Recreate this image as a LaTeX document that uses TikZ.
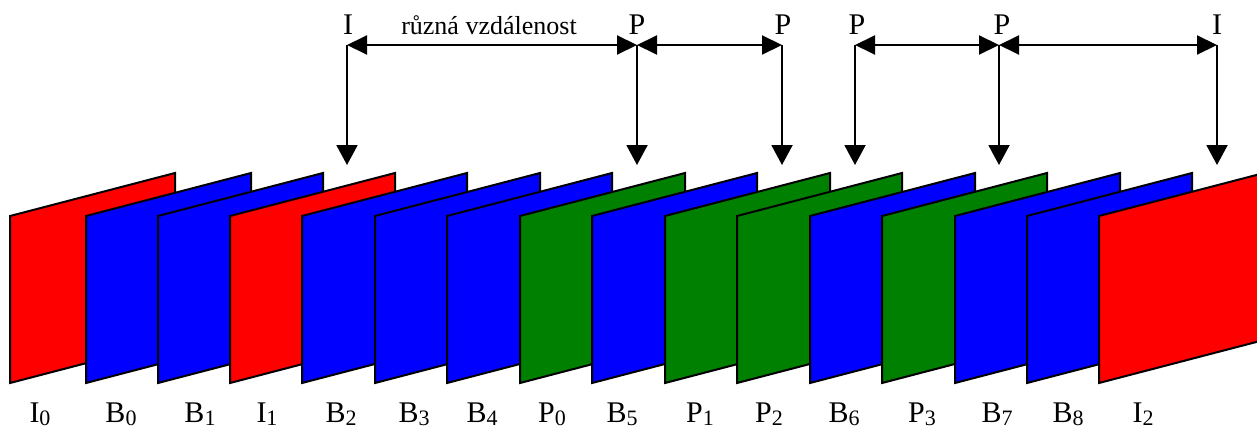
\documentclass[tikz,border=0pt]{standalone}
\usepackage{fontspec}
\setmainfont{Liberation Serif}
\usetikzlibrary{arrows.meta}
\definecolor{iframe}{RGB}{255,0,0}
\definecolor{bframe}{RGB}{0,0,255}
\definecolor{pframe}{RGB}{0,128,0}
\tikzset{
  framebox/.style={draw=black, line width=2pt, line join=miter},
  lbl/.style={font=\fontsize{30}{36}\selectfont, inner sep=0pt, anchor=base},
  toplbl/.style={font=\fontsize{30}{36}\selectfont, inner sep=0pt, anchor=base},
  distlbl/.style={font=\fontsize{26}{30}\selectfont, inner sep=0pt, anchor=base},
  downarr/.style={line width=2pt, -{Triangle[length=20pt,width=21pt]}},
  dblarr/.style={line width=2pt, {Triangle[length=20pt,width=19pt]}-{Triangle[length=20pt,width=19pt]}}
}
\newcommand{\subnum}[1]{{\fontsize{22}{24}\selectfont\raisebox{-3pt}{#1}}}
\begin{document}
\begin{tikzpicture}[x=1pt,y=-1pt]
\useasboundingbox (0,0) rectangle (1257,428);
\begin{scope}
\clip (0,0) rectangle (1257,428);
\foreach \x/\c/\L/\s/\lx [count=\i] in {
  10/iframe/I/0/40, 86/bframe/B/0/121, 158/bframe/B/1/200, 230/iframe/I/1/267,
  302/bframe/B/2/341, 375/bframe/B/3/414, 447/bframe/B/4/482, 520/pframe/P/0/552,
  592/bframe/B/5/622, 665/pframe/P/1/700, 737/pframe/P/2/769, 810/bframe/B/6/844,
  882/pframe/P/3/922, 955/bframe/B/7/997, 1027/bframe/B/8/1068, 1099/iframe/I/2/1143}{
  \filldraw[framebox, fill=\c] (\x,383) -- (\x,216) -- ++(165,-43) -- ++(0,167) -- cycle;
  \node[lbl] (l\i) at (\lx,422) {\L\subnum{\s}};
}
\end{scope}
% top labels
\node[toplbl] (t1) at (348,35) {I};
\node[toplbl] (t2) at (637,35) {P};
\node[toplbl] (t3) at (783,35) {P};
\node[toplbl] (t4) at (857,35) {P};
\node[toplbl] (t5) at (1002,35) {P};
\node[toplbl] (t6) at (1217,35) {I};
\node[distlbl] (dist) at (489,35) {různá vzdálenost};
% arrow coordinates
\foreach \x [count=\i] in {347,637,782,855,999,1217}{
  \coordinate (h\i) at (\x,45);
  \coordinate (d\i) at (\x,165);
}
\foreach \i in {1,...,6}{
  \draw[downarr] (h\i) -- (d\i);
}
\draw[dblarr] (h1) -- (h2);
\draw[dblarr] (h2) -- (h3);
\draw[dblarr] (h4) -- (h5);
\draw[dblarr] (h5) -- (h6);
\end{tikzpicture}
\end{document}
